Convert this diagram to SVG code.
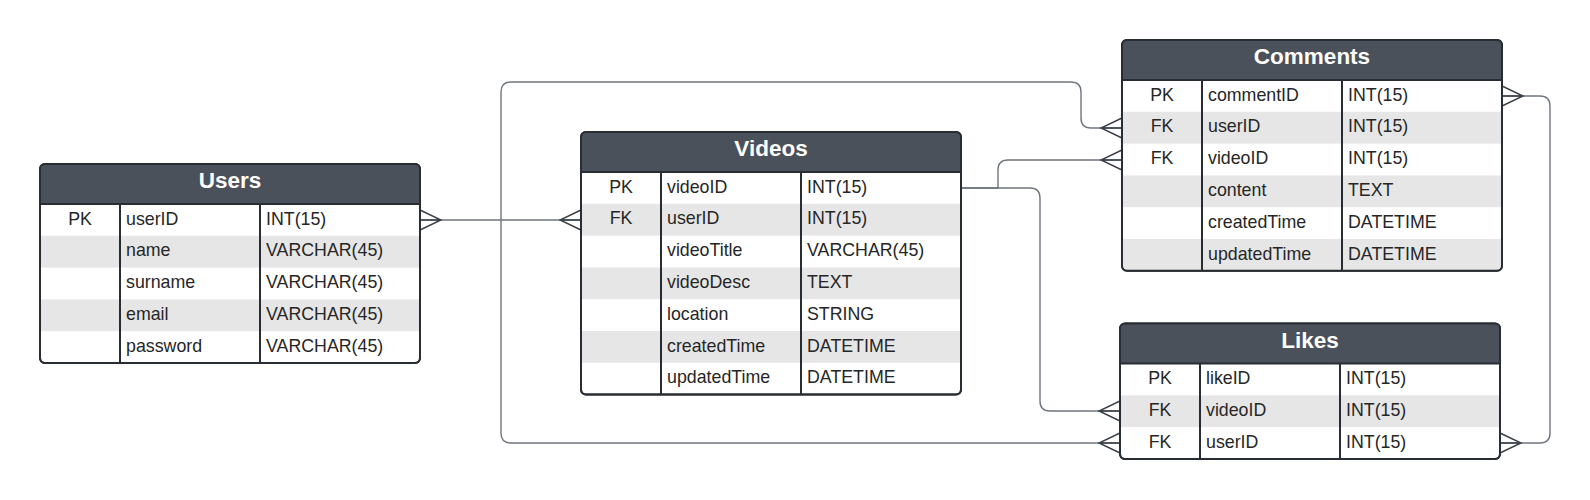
<svg xmlns="http://www.w3.org/2000/svg" width="1590" height="500" viewBox="0 0 1590 500">
<style>
.frame{fill:#ffffff;stroke:#282c33;stroke-width:2}
.outline{fill:none;stroke:#282c33;stroke-width:2}
.head{fill:#4b515b}
.stripe{fill:#e6e6e6}
.div{stroke:#282c33;stroke-width:2}
.title{font-family:"Liberation Sans",Arial,sans-serif;font-size:22.5px;font-weight:bold;fill:#ffffff;text-anchor:middle}
.cell{font-family:"Liberation Sans",Arial,sans-serif;font-size:17.8px;fill:#262626}
.key{text-anchor:middle}
.conn{fill:none;stroke:#70767e;stroke-width:1.4}
</style>
<defs>
<marker id="crow" markerUnits="userSpaceOnUse" markerWidth="24" markerHeight="24" viewBox="-23 -12 24 24" refX="0" refY="0" orient="auto-start-reverse" overflow="visible">
<path d="M0,-10 L-21,0 L0,10 M-21,0 L0,0" fill="none" stroke="#3a4048" stroke-width="1.4"/>
</marker>
</defs>

<g id="connectors">
<path class="conn" d="M420,220 H581" marker-start="url(#crow)" marker-end="url(#crow)"/>
<path class="conn" d="M961,188 H998 V170 Q998,160 1008,160 H1122" marker-end="url(#crow)"/>
<path class="conn" d="M961,188 H1030 Q1040,188 1040,198 V401 Q1040,411 1050,411 H1120" marker-end="url(#crow)"/>
<path class="conn" d="M1122,128 H1091 Q1081,128 1081,118 V92 Q1081,82 1071,82 H511 Q501,82 501,92 V433 Q501,443 511,443 H1120" marker-start="url(#crow)" marker-end="url(#crow)"/>
<path class="conn" d="M1502,96 H1540 Q1550,96 1550,106 V433 Q1550,443 1540,443 H1500" marker-start="url(#crow)" marker-end="url(#crow)"/>
</g>

<g id="users">
<rect class="frame" x="40" y="164" width="380" height="199" rx="5"/>
<path class="head" d="M40,204 V169 Q40,164 45,164 H415 Q420,164 420,169 V204 Z"/>
<rect class="stripe" x="41" y="235.8" width="378" height="31.8"/>
<rect class="stripe" x="41" y="299.4" width="378" height="31.8"/>
<line class="div" x1="40" y1="204" x2="420" y2="204"/>
<line class="div" x1="120" y1="204" x2="120" y2="363"/>
<line class="div" x1="260" y1="204" x2="260" y2="363"/>
<rect class="outline" x="40" y="164" width="380" height="199" rx="5"/>
<text class="title" x="230" y="188">Users</text>
<text class="cell key" x="80" y="224.5">PK</text>
<text class="cell" x="126" y="224.5">userID</text><text class="cell" x="266" y="224.5">INT(15)</text>
<text class="cell" x="126" y="256.3">name</text><text class="cell" x="266" y="256.3">VARCHAR(45)</text>
<text class="cell" x="126" y="288.1">surname</text><text class="cell" x="266" y="288.1">VARCHAR(45)</text>
<text class="cell" x="126" y="319.9">email</text><text class="cell" x="266" y="319.9">VARCHAR(45)</text>
<text class="cell" x="126" y="351.7">password</text><text class="cell" x="266" y="351.7">VARCHAR(45)</text>
</g>

<g id="videos">
<rect class="frame" x="581" y="132" width="380" height="262.6" rx="5"/>
<path class="head" d="M581,172 V137 Q581,132 586,132 H956 Q961,132 961,137 V172 Z"/>
<rect class="stripe" x="582" y="203.8" width="378" height="31.8"/>
<rect class="stripe" x="582" y="267.4" width="378" height="31.8"/>
<rect class="stripe" x="582" y="331" width="378" height="31.8"/>
<line class="div" x1="581" y1="172" x2="961" y2="172"/>
<line class="div" x1="661" y1="172" x2="661" y2="394.6"/>
<line class="div" x1="801" y1="172" x2="801" y2="394.6"/>
<rect class="outline" x="581" y="132" width="380" height="262.6" rx="5"/>
<text class="title" x="771" y="156">Videos</text>
<text class="cell key" x="621" y="192.5">PK</text>
<text class="cell key" x="621" y="224.3">FK</text>
<text class="cell" x="667" y="192.5">videoID</text><text class="cell" x="807" y="192.5">INT(15)</text>
<text class="cell" x="667" y="224.3">userID</text><text class="cell" x="807" y="224.3">INT(15)</text>
<text class="cell" x="667" y="256.1">videoTitle</text><text class="cell" x="807" y="256.1">VARCHAR(45)</text>
<text class="cell" x="667" y="287.9">videoDesc</text><text class="cell" x="807" y="287.9">TEXT</text>
<text class="cell" x="667" y="319.7">location</text><text class="cell" x="807" y="319.7">STRING</text>
<text class="cell" x="667" y="351.5">createdTime</text><text class="cell" x="807" y="351.5">DATETIME</text>
<text class="cell" x="667" y="383.3">updatedTime</text><text class="cell" x="807" y="383.3">DATETIME</text>
</g>

<g id="comments">
<rect class="frame" x="1122" y="40" width="380" height="230.8" rx="5"/>
<path class="head" d="M1122,80 V45 Q1122,40 1127,40 H1497 Q1502,40 1502,45 V80 Z"/>
<rect class="stripe" x="1123" y="111.8" width="378" height="31.8"/>
<rect class="stripe" x="1123" y="175.4" width="378" height="31.8"/>
<path class="stripe" d="M1123,239 H1501 V265.8 Q1501,269.8 1497,269.8 H1127 Q1123,269.8 1123,265.8 Z"/>
<line class="div" x1="1122" y1="80" x2="1502" y2="80"/>
<line class="div" x1="1202" y1="80" x2="1202" y2="270.8"/>
<line class="div" x1="1342" y1="80" x2="1342" y2="270.8"/>
<rect class="outline" x="1122" y="40" width="380" height="230.8" rx="5"/>
<text class="title" x="1312" y="64">Comments</text>
<text class="cell key" x="1162" y="100.5">PK</text>
<text class="cell key" x="1162" y="132.3">FK</text>
<text class="cell key" x="1162" y="164.1">FK</text>
<text class="cell" x="1208" y="100.5">commentID</text><text class="cell" x="1348" y="100.5">INT(15)</text>
<text class="cell" x="1208" y="132.3">userID</text><text class="cell" x="1348" y="132.3">INT(15)</text>
<text class="cell" x="1208" y="164.1">videoID</text><text class="cell" x="1348" y="164.1">INT(15)</text>
<text class="cell" x="1208" y="195.9">content</text><text class="cell" x="1348" y="195.9">TEXT</text>
<text class="cell" x="1208" y="227.7">createdTime</text><text class="cell" x="1348" y="227.7">DATETIME</text>
<text class="cell" x="1208" y="259.5">updatedTime</text><text class="cell" x="1348" y="259.5">DATETIME</text>
</g>

<g id="likes">
<rect class="frame" x="1120" y="323.5" width="380" height="135.4" rx="5"/>
<path class="head" d="M1120,363.5 V328.5 Q1120,323.5 1125,323.5 H1495 Q1500,323.5 1500,328.5 V363.5 Z"/>
<rect class="stripe" x="1121" y="395.3" width="378" height="31.8"/>
<line class="div" x1="1120" y1="363.5" x2="1500" y2="363.5"/>
<line class="div" x1="1200" y1="363.5" x2="1200" y2="458.9"/>
<line class="div" x1="1340" y1="363.5" x2="1340" y2="458.9"/>
<rect class="outline" x="1120" y="323.5" width="380" height="135.4" rx="5"/>
<text class="title" x="1310" y="347.5">Likes</text>
<text class="cell key" x="1160" y="384">PK</text>
<text class="cell key" x="1160" y="415.8">FK</text>
<text class="cell key" x="1160" y="447.6">FK</text>
<text class="cell" x="1206" y="384">likeID</text><text class="cell" x="1346" y="384">INT(15)</text>
<text class="cell" x="1206" y="415.8">videoID</text><text class="cell" x="1346" y="415.8">INT(15)</text>
<text class="cell" x="1206" y="447.6">userID</text><text class="cell" x="1346" y="447.6">INT(15)</text>
</g>
</svg>
